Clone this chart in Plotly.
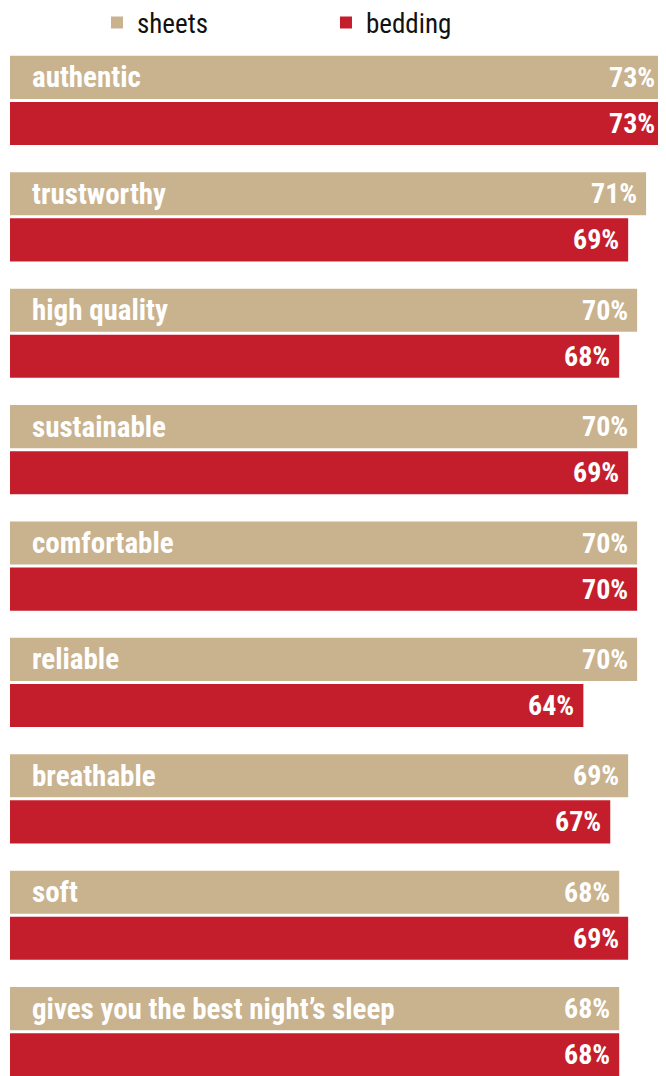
import plotly.graph_objects as go

categories = ["authentic", "trustworthy", "high quality", "sustainable", "comfortable",
              "reliable", "breathable", "soft", "gives you the best night’s sleep"]
sheets = [73, 71, 70, 70, 70, 70, 69, 68, 68]
bedding = [73, 69, 68, 69, 70, 64, 67, 69, 68]
series_names = ["sheets", "bedding"]

TAN = "#C9B28E"
RED = "#C41E2D"
FONT = "Liberation Sans Narrow, Roboto Condensed, DejaVu Sans Condensed, Arial Narrow, sans-serif"

idx = list(range(len(categories)))
OFF = 0.198   # offset of each bar's centre from the category centre (data units)
BW = 0.37

fig = go.Figure()
fig.add_trace(go.Bar(
    y=idx, x=sheets, name=series_names[0], orientation="h",
    marker=dict(color=TAN, line=dict(width=0)),
    offset=-OFF - BW / 2, width=BW, hoverinfo="x+name",
))
fig.add_trace(go.Bar(
    y=idx, x=bedding, name=series_names[1], orientation="h",
    marker=dict(color=RED, line=dict(width=0)),
    offset=OFF - BW / 2, width=BW, hoverinfo="x+name",
))

annotations = []
for i, (c, s, b) in enumerate(zip(categories, sheets, bedding)):
    annotations.append(dict(x=0, y=i - OFF, text=f"<b>{c}</b>", xref="x", yref="y",
                            xanchor="left", yanchor="middle", xshift=20, showarrow=False,
                            font=dict(family=FONT, size=29, color="white")))
    annotations.append(dict(x=s, y=i - OFF, text=f"<b>{s}%</b>", xref="x", yref="y",
                            xanchor="right", yanchor="middle", xshift=-7, showarrow=False,
                            font=dict(family=FONT, size=28, color="white")))
    annotations.append(dict(x=b, y=i + OFF, text=f"<b>{b}%</b>", xref="x", yref="y",
                            xanchor="right", yanchor="middle", xshift=-7, showarrow=False,
                            font=dict(family=FONT, size=28, color="white")))

fig.update_layout(
    width=658, height=1068,
    margin=dict(l=2, r=2, t=36, b=0, pad=0, autoexpand=False),
    paper_bgcolor="white", plot_bgcolor="white",
    barmode="overlay",
    showlegend=True,
    legend=dict(orientation="h", x=0.133, xanchor="left", y=1.0205, yanchor="middle",
                entrywidth=184, entrywidthmode="pixels",
                font=dict(family=FONT, size=27, color="#111111"),
                bgcolor="rgba(0,0,0,0)", traceorder="normal"),
    xaxis=dict(range=[0, 73], visible=False, fixedrange=True),
    yaxis=dict(range=[8.381, -0.485], visible=False, fixedrange=True),
    annotations=annotations,
)

fig.write_html("out.html")
